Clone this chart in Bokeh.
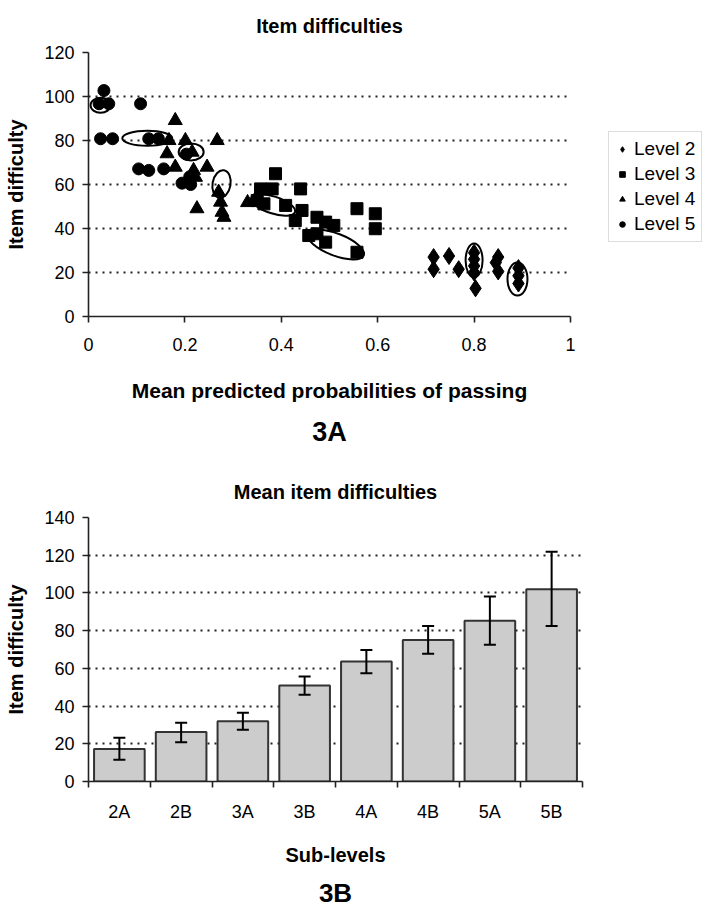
import numpy as np
from bokeh.plotting import figure
from bokeh.models import (Range1d, FixedTicker, ColumnDataSource, Whisker, TeeHead, Title,
                          Legend, LegendItem)
from bokeh.layouts import column
from bokeh.embed import file_html
from bokeh.resources import INLINE

FONT = "Liberation Sans"

# ---------------- Figure 3A data ----------------
level2_x = [0.716, 0.716, 0.748, 0.768, 0.800, 0.800, 0.800, 0.800, 0.803, 0.845, 0.850, 0.850, 0.892, 0.892, 0.892]
level2_y = [27.0, 21.5, 27.5, 21.5, 29.0, 26.0, 23.0, 20.0, 12.8, 24.5, 27.0, 20.5, 22.0, 18.5, 15.0]

level3_x = [0.388, 0.357, 0.381, 0.440, 0.350, 0.364, 0.409, 0.443, 0.429, 0.474, 0.492, 0.509,
            0.457, 0.474, 0.492, 0.557, 0.595, 0.595, 0.557]
level3_y = [64.9, 58.0, 58.0, 58.0, 52.7, 51.2, 50.5, 48.2, 43.6, 45.1, 42.9, 41.4,
            36.8, 37.6, 33.8, 49.0, 46.7, 39.9, 29.2]

level4_x = [0.180, 0.167, 0.201, 0.267, 0.163, 0.180, 0.215, 0.218, 0.222, 0.246, 0.225,
            0.270, 0.274, 0.277, 0.281, 0.330, 0.345]
level4_y = [89.1, 80.0, 80.0, 80.0, 74.0, 67.9, 74.7, 66.4, 63.3, 67.9, 49.0,
            56.5, 52.0, 47.4, 45.1, 51.8, 52.8]

level5_x = [0.032, 0.022, 0.042, 0.108, 0.025, 0.050, 0.125, 0.145, 0.104, 0.125, 0.156,
            0.194, 0.212, 0.203, 0.210]
level5_y = [102.7, 96.7, 96.7, 96.7, 80.8, 80.8, 80.8, 80.8, 67.1, 66.4, 67.1,
            60.6, 60.0, 73.8, 63.5]

level_names = ["Level 2", "Level 3", "Level 4", "Level 5"]

# circled groups (centre in data units)
ellipse_x = [0.025, 0.122, 0.213, 0.276, 0.383, 0.513, 0.800, 0.890]
ellipse_y = [96.0, 81.0, 74.8, 60.2, 50.7, 32.7, 25.5, 17.0]

x_ticks = [0, 0.2, 0.4, 0.6, 0.8, 1]
x_tick_labels = ["0", "0.2", "0.4", "0.6", "0.8", "1"]
y_ticks_a = [0, 20, 40, 60, 80, 100, 120]

# ---------------- Figure 3B data ----------------
sublevels = ["2A", "2B", "3A", "3B", "4A", "4B", "5A", "5B"]
mean_difficulty = [17.3, 26.2, 32.0, 50.9, 63.6, 75.1, 85.2, 102.0]
err_lower = [11.5, 20.8, 27.4, 46.0, 57.4, 67.7, 72.5, 82.5]
err_upper = [23.2, 31.1, 36.4, 55.7, 69.8, 82.5, 98.1, 121.9]
y_ticks_b = [0, 20, 40, 60, 80, 100, 120, 140]

# ---------------- styling helpers ----------------
GRID_COLOR = "#222222"
AXIS_COLOR = "#222222"


def style_axis(ax, label, label_size="20px"):
    ax.axis_label = label
    ax.axis_label_text_font = FONT
    ax.axis_label_text_font_style = "bold"
    ax.axis_label_text_font_size = label_size
    ax.axis_label_text_color = "black"
    ax.major_label_text_font = FONT
    ax.major_label_text_font_size = "18px"
    ax.major_label_text_color = "black"
    ax.axis_line_color = AXIS_COLOR
    ax.axis_line_width = 1.6
    ax.major_tick_line_color = AXIS_COLOR
    ax.major_tick_line_width = 1.6
    ax.minor_tick_line_color = None
    ax.major_tick_in = 0
    ax.major_tick_out = 6


def style_title(t, size="20px"):
    t.text_font = FONT
    t.text_font_style = "bold"
    t.text_font_size = size
    t.text_color = "black"
    t.align = "center"


def style_grid(g, ticks):
    g.ticker = FixedTicker(ticks=ticks)
    g.grid_line_color = GRID_COLOR
    g.grid_line_width = 2
    g.grid_line_dash = "2 5"


# ---------------- Figure 3A ----------------
p1 = figure(frame_width=482, frame_height=264,
            min_border_left=88, min_border_right=135, min_border_top=52, min_border_bottom=146,
            x_range=Range1d(x_ticks[0], x_ticks[-1]), y_range=Range1d(y_ticks_a[0], y_ticks_a[-1]),
            output_backend="svg", toolbar_location=None, title="Item difficulties")
p1.outline_line_color = None
p1.xgrid.visible = False
style_grid(p1.ygrid, y_ticks_a[1:])
style_title(p1.title)
p1.title.standoff = 27
p1.title.vertical_align = "top"

r2 = p1.scatter(level2_x, level2_y, marker="diamond", size=17, color="black")
r3 = p1.scatter(level3_x, level3_y, marker="square", size=12, color="black")
r4 = p1.scatter(level4_x, level4_y, marker="triangle", size=14, color="black")
r5 = p1.scatter(level5_x, level5_y, marker="circle", size=12, color="black")

p1.ellipse(x=ellipse_x, y=ellipse_y,
           width=[20, 50, 25, 18, 46, 60, 17, 20],
           height=[15, 15, 17, 28, 17, 22, 34, 33],
           angle=[0, 0, 0, -10, -18, -21, 0, 0], angle_units="deg",
           width_units="screen", height_units="screen",
           fill_color=None, line_color="black", line_width=2)

xa = p1.xaxis[0]
style_axis(xa, "Mean predicted probabilities of passing", "21px")
xa.ticker = FixedTicker(ticks=x_ticks)
xa.major_label_overrides = dict(zip(x_ticks, x_tick_labels))
xa.major_label_standoff = 15
xa.axis_label_standoff = 25

ya = p1.yaxis[0]
style_axis(ya, "Item difficulty")
ya.ticker = FixedTicker(ticks=y_ticks_a)
ya.major_label_standoff = 8
ya.axis_label_standoff = 14

lg = Legend(items=[LegendItem(label=n, renderers=[r]) for n, r in zip(level_names, [r2, r3, r4, r5])],
            location=(38, 74))
lg.label_text_font = FONT
lg.label_text_font_size = "19px"
lg.label_text_color = "black"
lg.padding = 6
lg.spacing = 3
lg.margin = 0
lg.label_height = 22
lg.glyph_height = 22
lg.glyph_width = 14
lg.label_standoff = 5
lg.border_line_color = "#bbbbbb"
lg.border_line_width = 1
lg.background_fill_color = "white"
lg.background_fill_alpha = 1
p1.add_layout(lg, "right")

t3a = Title(text="3A")
style_title(t3a, "27px")
t3a.standoff = 20
p1.add_layout(t3a, "below")

# ---------------- Figure 3B ----------------
bar_x = np.arange(len(sublevels)) + 0.5
src = ColumnDataSource(dict(x=bar_x, top=mean_difficulty, lower=err_lower, upper=err_upper))

p2 = figure(frame_width=494, frame_height=264,
            min_border_left=88, min_border_right=123, min_border_top=55, min_border_bottom=130,
            x_range=Range1d(0, len(sublevels)), y_range=Range1d(y_ticks_b[0], y_ticks_b[-1]),
            output_backend="svg", toolbar_location=None, title="Mean item difficulties")
p2.outline_line_color = None
style_title(p2.title)
p2.title.standoff = 30
p2.xgrid.visible = False
style_grid(p2.ygrid, y_ticks_b[1:])

p2.vbar(x="x", top="top", width=0.82, bottom=0, source=src,
        fill_color="#cccccc", line_color="#333333", line_width=2)

wk = Whisker(source=src, base="x", lower="lower", upper="upper",
             line_color="black", line_width=2, level="annotation",
             upper_head=TeeHead(size=12, line_color="black", line_width=2),
             lower_head=TeeHead(size=12, line_color="black", line_width=2))
p2.add_layout(wk)

xb = p2.xaxis[0]
style_axis(xb, "Sub-levels")
xb.ticker = FixedTicker(ticks=list(bar_x), minor_ticks=list(range(len(sublevels) + 1)))
xb.major_label_overrides = {float(v): s for v, s in zip(bar_x, sublevels)}
xb.major_tick_out = 0
xb.minor_tick_line_color = AXIS_COLOR
xb.minor_tick_line_width = 1.6
xb.minor_tick_in = 0
xb.minor_tick_out = 6
xb.major_label_standoff = 14
xb.axis_label_standoff = 19

yb = p2.yaxis[0]
style_axis(yb, "Item difficulty")
yb.ticker = FixedTicker(ticks=y_ticks_b)
yb.major_label_standoff = 8
yb.axis_label_standoff = 14

t3b = Title(text="3B")
style_title(t3b, "26px")
t3b.standoff = 14
p2.add_layout(t3b, "below")

layout = column(p1, p2)
open("out.html", "w").write(file_html(layout, INLINE))
